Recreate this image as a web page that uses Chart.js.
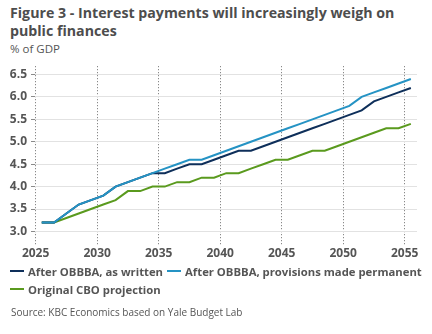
<!DOCTYPE html>
<html>
<head>
<meta charset="utf-8">
<script src="https://cdn.jsdelivr.net/npm/chart.js@4/dist/chart.umd.min.js"></script>
<style>
  body { margin: 0; background: #fff; font-family: "Open Sans", sans-serif; color: #555; }
  #wrap { position: relative; width: 432px; height: 334px; overflow: hidden; }
  #title { position: absolute; left: 10px; top: 4px; width: 420px; font-size: 14.2px; font-weight: 700; line-height: 18px; color: #4d4d4d; }
  #unit { position: absolute; left: 10px; top: 41px; font-size: 11.5px; color: #555; }
  #box { position: absolute; left: 0; top: 55px; width: 432px; height: 208px; }
  #legend { position: absolute; left: 10px; top: 262px; width: 422px; display: flex; flex-wrap: wrap; font-size: 11.3px; font-weight: 700; color: #555; }
  .item { display: flex; align-items: center; height: 18px; margin-right: 4px; white-space: nowrap; }
  .swatch { width: 14px; height: 2px; margin-right: 4px; }
  #source { position: absolute; left: 11px; top: 305px; font-size: 10px; color: #555; }
</style>
</head>
<body>
<div id="wrap">
  <div id="title">Figure 3 - Interest payments will increasingly weigh on public finances</div>
  <div id="unit">% of GDP</div>
  <div id="box"><canvas id="chart"></canvas></div>
  <div id="legend"></div>
  <div id="source">Source: KBC Economics based on Yale Budget Lab</div>
</div>
<script>
// Fiscal years, plotted at mid-year
const years = [2025, 2026, 2027, 2028, 2029, 2030, 2031, 2032, 2033, 2034,
  2035, 2036, 2037, 2038, 2039, 2040, 2041, 2042, 2043, 2044,
  2045, 2046, 2047, 2048, 2049, 2050, 2051, 2052, 2053, 2054, 2055];

const asWritten = [3.2, 3.2, 3.4, 3.6, 3.7, 3.8, 4.0, 4.1, 4.2, 4.3,
  4.3, 4.4, 4.5, 4.5, 4.6, 4.7, 4.8, 4.8, 4.9, 5.0,
  5.1, 5.2, 5.3, 5.4, 5.5, 5.6, 5.7, 5.9, 6.0, 6.1, 6.2];

const permanent = [3.2, 3.2, 3.4, 3.6, 3.7, 3.8, 4.0, 4.1, 4.2, 4.3,
  4.4, 4.5, 4.6, 4.6, 4.7, 4.8, 4.9, 5.0, 5.1, 5.2,
  5.3, 5.4, 5.5, 5.6, 5.7, 5.8, 6.0, 6.1, 6.2, 6.3, 6.4];

const cboOriginal = [3.2, 3.2, 3.3, 3.4, 3.5, 3.6, 3.7, 3.9, 3.9, 4.0,
  4.0, 4.1, 4.1, 4.2, 4.2, 4.3, 4.3, 4.4, 4.5, 4.6,
  4.6, 4.7, 4.8, 4.8, 4.9, 5.0, 5.1, 5.2, 5.3, 5.3, 5.4];

const seriesNames = ["After OBBBA, as written", "After OBBBA, provisions made permanent", "Original CBO projection"];
const seriesColors = ["#0e2f5a", "#2593c4", "#5a9a1e"];
const xTicks = [2025, 2030, 2035, 2040, 2045, 2050, 2055];
const yTicks = [3.0, 3.5, 4.0, 4.5, 5.0, 5.5, 6.0, 6.5];

function toPoints(values) {
  return values.map((v, i) => ({ x: years[i] + 0.5, y: v }));
}

const allSeries = [asWritten, permanent, cboOriginal];
const drawOrder = [1, 0, 2]; // light blue on top where lines overlap

const datasets = allSeries.map((values, i) => ({
  label: seriesNames[i],
  data: toPoints(values),
  borderColor: seriesColors[i],
  backgroundColor: seriesColors[i],
  borderWidth: 2,
  pointRadius: 0,
  tension: 0,
  order: drawOrder[i],
}));

// Legend in HTML
const legend = document.getElementById("legend");
seriesNames.forEach((name, i) => {
  const item = document.createElement("span");
  item.className = "item";
  const sw = document.createElement("span");
  sw.className = "swatch";
  sw.style.background = seriesColors[i];
  item.appendChild(sw);
  item.appendChild(document.createTextNode(name));
  legend.appendChild(item);
});

const tickFont = { family: "Open Sans", size: 12, weight: "bold" };

// the plot area runs a little below 3.0 so the dotted year lines hang under the axis
new Chart(document.getElementById("chart"), {
  type: "line",
  data: { datasets },
  options: {
    responsive: true,
    maintainAspectRatio: false,
    animation: false,
    layout: { padding: { top: 5, right: 15, left: 0, bottom: 0 } },
    plugins: { legend: { display: false }, tooltip: { enabled: false } },
    scales: {
      x: {
        type: "linear",
        min: 2024.95,
        max: 2056,
        afterBuildTicks: scale => { scale.ticks = xTicks.map(v => ({ value: v })); },
        afterFit: scale => { scale.height = 18; },
        ticks: { color: "#555", font: tickFont, padding: 1, callback: v => String(v), maxRotation: 0 },
        grid: { color: "#6e6e6e", lineWidth: 1, drawTicks: false },
        border: { display: false, dash: [1, 2] },
      },
      y: {
        min: 2.698,
        max: 6.685,
        afterBuildTicks: scale => { scale.ticks = yTicks.map(v => ({ value: v })); },
        afterFit: scale => { scale.width = 35; },
        ticks: { color: "#555", font: tickFont, padding: 4, callback: v => v.toFixed(1) },
        grid: { color: "#e2e2e2", tickColor: "#8a8a8a", tickLength: 4, lineWidth: 1 },
        border: { display: false },
      },
    },
  },
});
</script>
</body>
</html>
